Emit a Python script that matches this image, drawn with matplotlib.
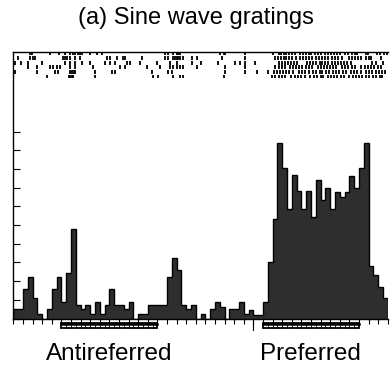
import matplotlib
matplotlib.use("Agg")
import matplotlib.pyplot as plt
from matplotlib.patches import Rectangle
import numpy as np

plt.rcParams['font.family'] = ['Liberation Sans', 'DejaVu Sans']

# ---- data ----
title = "(a) Sine wave gratings"
labels = ["Antireferred", "Preferred"]
label_centers = [20.0, 62.0]          # bin units
stim_bars = [(10, 30), (52, 72)]      # stimulus periods in bin units

counts = [0.5, 0.5, 1.56, 2.24, 1.1, 0.24, 0.0, 0.5, 1.56, 2.24,
          0.9, 2.45, 4.8, 0.72, 0.5, 0.7, 0.24, 0.9, 0.24, 0.7,
          1.56, 0.7, 0.7, 0.5, 0.9, 0.0, 0.24, 0.24, 0.7, 0.7,
          0.7, 0.7, 2.24, 3.26, 2.6, 0.7, 0.5, 0.7, 0.0, 0.24,
          0.0, 0.5, 0.87, 0.64, 0.0, 0.5, 0.5, 0.87, 0.24, 0.45,
          0.2, 0.2, 0.86, 3.0, 5.3, 9.37, 8.05, 5.84, 7.66, 6.8,
          5.84, 6.8, 5.45, 7.4, 6.34, 6.96, 5.84, 6.78, 6.51, 6.78,
          7.62, 6.96, 8.05, 9.37, 2.8, 2.3, 1.7, 1.1]

raster_row1 = [3.5, 3.8, 7.6, 9.6, 10.8, 11.8, 12.4, 12.9, 13.4, 13.9, 14.3, 16.0,
               17.5, 18.4, 31.6, 32.3, 33.3, 34.0, 34.4, 34.7, 43.0, 43.8, 44.1, 48.3,
               54.2, 55.3, 55.8, 56.4, 56.9, 57.5, 58.0, 58.6, 59.8, 60.3, 60.9, 61.6,
               62.1, 62.8, 63.4, 64.0, 65.0, 65.6, 66.1, 66.8, 67.4, 68.1, 69.2, 69.8,
               70.5, 71.1, 71.7, 73.4, 73.9, 75.8, 76.4, 77.2, 77.8]
raster_row2 = [1.0, 3.5, 4.2, 4.5, 10.4, 10.8, 11.1, 11.8, 12.9, 13.9, 19.5, 20.1,
               21.5, 22.9, 23.3, 26.8, 31.6, 32.3, 33.3, 33.7, 34.0, 34.4, 34.7, 35.4,
               37.2, 38.2, 43.4, 48.3, 54.5, 55.1, 55.7, 56.3, 56.8, 57.4, 58.1, 58.8,
               59.8, 60.4, 61.0, 61.7, 62.2, 63.0, 63.6, 64.3, 65.0, 65.5, 66.4, 67.0,
               67.7, 68.5, 69.9, 70.5, 71.2, 71.8, 72.5, 73.4, 74.0, 74.6, 76.7]
raster_row3 = [0.4, 1.7, 3.1, 5.9, 10.8, 11.8, 12.9, 14.3, 16.0, 19.1, 20.1, 21.2,
               23.6, 24.3, 26.4, 29.9, 32.6, 34.0, 37.2, 39.2, 42.7, 46.2, 47.2, 48.3,
               50.4, 55.3, 55.9, 56.5, 57.2, 57.8, 58.5, 59.2, 61.2, 61.8, 62.5, 63.1,
               63.8, 64.4, 65.0, 65.5, 66.4, 67.0, 67.6, 68.3, 68.9, 69.6, 70.3, 74.8,
               75.5, 77.1]
raster_row4 = [3.1, 4.9, 7.6, 8.3, 9.0, 9.7, 11.8, 12.9, 16.7, 22.2, 23.3, 27.8,
               30.6, 32.6, 33.3, 34.0, 34.7, 35.4, 38.2, 44.1, 48.3, 54.6, 55.3, 55.9,
               56.5, 57.6, 58.2, 58.9, 59.6, 60.1, 61.0, 61.7, 62.3, 63.4, 64.0, 64.7,
               65.3, 66.0, 66.6, 67.3, 68.5, 69.2, 69.8, 70.5, 71.2, 72.5, 73.2, 73.8,
               74.5, 75.2, 75.9, 76.6]
raster_row5 = [0.4, 4.9, 8.7, 9.4, 11.8, 12.2, 12.6, 12.9, 17.0, 20.5, 21.2, 28.8,
               32.3, 33.0, 44.1, 48.3, 50.7, 53.1, 54.3, 54.9, 55.6, 56.2, 56.9, 57.5,
               58.2, 59.5, 60.2, 60.8, 61.5, 62.5, 63.1, 63.8, 64.4, 65.1, 65.7, 66.6,
               67.2, 67.9, 68.6, 69.3, 70.4, 71.0, 71.7, 72.4, 73.5, 74.1, 74.8, 75.5,
               76.1, 76.8, 77.4]
raster_row6 = [7.0, 11.5, 11.8, 12.2, 12.5, 17.0, 29.2, 30.2, 33.3, 34.7, 35.4, 43.8,
               53.9, 54.6, 55.3, 55.9, 56.6, 57.9, 58.6, 59.3, 60.0, 60.7, 61.9, 62.6,
               63.3, 64.0, 64.6, 65.5, 66.2, 66.8, 67.5, 68.2, 68.9, 70.0, 70.7, 71.4,
               72.1, 72.7, 73.5, 74.2, 74.9, 75.6, 76.3, 76.8]
raster_rows = [raster_row1, raster_row2, raster_row3, raster_row4, raster_row5, raster_row6]

# ---- figure ----
W, H = 391, 368
fig = plt.figure(figsize=(W / 100, H / 100), dpi=100)

x0, x1 = 13.3, 387.7          # pixel extents of axes
yb, yt = 318.5, 52.0          # baseline and top in pixels (from top)
unit_px = 18.7
ax = fig.add_axes([x0 / W, (H - yb) / H, (x1 - x0) / W, (yb - yt) / H])

nb = len(counts)
edges = np.arange(nb + 1)
ax.stairs(counts, edges, fill=True, facecolor='#2e2e2e', edgecolor='none')
ax.stairs(counts, edges, color='black', linewidth=1.0)

offsets = [14.17, 13.93, 13.68, 13.43, 13.19, 12.94]
ax.eventplot(raster_rows, lineoffsets=offsets, linelengths=0.2,
             linewidths=1.3, colors='black')

ax.set_xlim(0, nb)
ax.set_ylim(0, (yb - yt) / unit_px)

ax.spines['right'].set_visible(False)
for s in ['left', 'bottom', 'top']:
    ax.spines[s].set_linewidth(1.0)

ax.set_xticks(np.arange(0, nb + 1, 2))
ax.set_yticks(np.arange(0, 11))
ax.tick_params(axis='x', direction='out', length=3.5, width=0.8, labelbottom=False)
ax.tick_params(axis='y', direction='in', length=5, width=0.8, labelleft=False)

# long marker tick
ax.plot([50, 50], [0, -0.62], color='black', lw=0.8, clip_on=False)

# stimulus bars
for (a, b) in stim_bars:
    ax.add_patch(Rectangle((a, -0.52), b - a, 0.27, facecolor='white',
                           edgecolor='black', linewidth=1.3, clip_on=False))
    for xv in np.arange(a + 1, b):
        ax.plot([xv, xv], [-0.50, -0.36], color='black', lw=0.6, clip_on=False)
    ax.plot([a, b], [-0.30, -0.30], color='black', lw=1.8, clip_on=False)

fig.text(0.5, 1 - 18 / H, title, ha='center', va='center', fontsize=17)
for lab, c in zip(labels, label_centers):
    xf = (x0 + c * (x1 - x0) / nb) / W
    fig.text(xf, (H - 354) / H, lab, ha='center', va='center', fontsize=17.5)

fig.savefig("out.png", dpi=100)
